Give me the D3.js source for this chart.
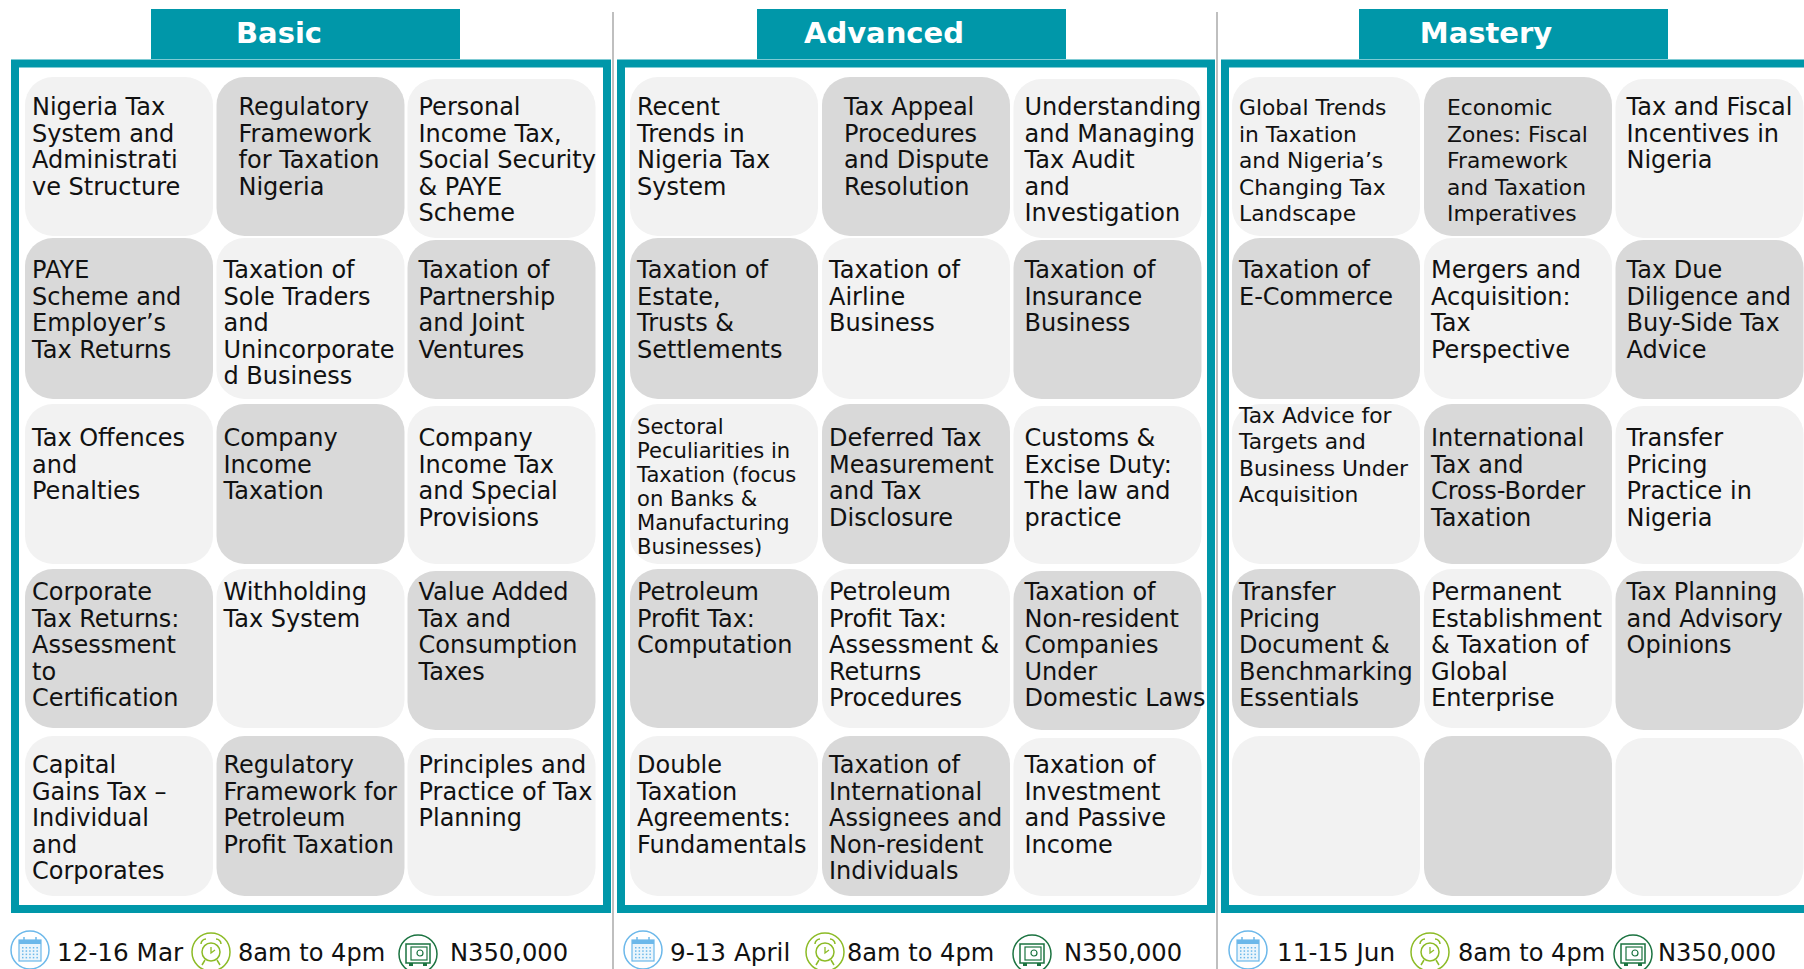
<!DOCTYPE html>
<html><head><meta charset="utf-8">
<script src="https://cdn.jsdelivr.net/npm/d3@7/dist/d3.min.js"></script>
<style>html,body{margin:0;padding:0;background:#fff;overflow:hidden}svg{display:block}text{font-family:"DejaVu Sans",Verdana,sans-serif}</style>
</head><body><svg id="c" width="1804" height="969"></svg>
<script>
const levels = ["Basic","Advanced","Mastery"];
const basicCourses = [
 "Nigeria Tax\nSystem and\nAdministrati\nve Structure","Regulatory\nFramework\nfor Taxation\nNigeria","Personal\nIncome Tax,\nSocial Security\n& PAYE\nScheme",
 "PAYE\nScheme and\nEmployer’s\nTax Returns","Taxation of\nSole Traders\nand\nUnincorporate\nd Business","Taxation of\nPartnership\nand Joint\nVentures",
 "Tax Offences\nand\nPenalties","Company\nIncome\nTaxation","Company\nIncome Tax\nand Special\nProvisions",
 "Corporate\nTax Returns:\nAssessment\nto\nCertification","Withholding\nTax System","Value Added\nTax and\nConsumption\nTaxes",
 "Capital\nGains Tax –\nIndividual\nand\nCorporates","Regulatory\nFramework for\nPetroleum\nProfit Taxation","Principles and\nPractice of Tax\nPlanning"];
const advancedCourses = [
 "Recent\nTrends in\nNigeria Tax\nSystem","Tax Appeal\nProcedures\nand Dispute\nResolution","Understanding\nand Managing\nTax Audit\nand\nInvestigation",
 "Taxation of\nEstate,\nTrusts &\nSettlements","Taxation of\nAirline\nBusiness","Taxation of\nInsurance\nBusiness",
 "Sectoral\nPeculiarities in\nTaxation (focus\non Banks &\nManufacturing\nBusinesses)","Deferred Tax\nMeasurement\nand Tax\nDisclosure","Customs &\nExcise Duty:\nThe law and\npractice",
 "Petroleum\nProfit Tax:\nComputation","Petroleum\nProfit Tax:\nAssessment &\nReturns\nProcedures","Taxation of\nNon-resident\nCompanies\nUnder\nDomestic Laws",
 "Double\nTaxation\nAgreements:\nFundamentals","Taxation of\nInternational\nAssignees and\nNon-resident\nIndividuals","Taxation of\nInvestment\nand Passive\nIncome"];
const masteryCourses = [
 "Global Trends\nin Taxation\nand Nigeria’s\nChanging Tax\nLandscape","Economic\nZones: Fiscal\nFramework\nand Taxation\nImperatives","Tax and Fiscal\nIncentives in\nNigeria",
 "Taxation of\nE-Commerce","Mergers and\nAcquisition:\nTax\nPerspective","Tax Due\nDiligence and\nBuy-Side Tax\nAdvice",
 "Tax Advice for\nTargets and\nBusiness Under\nAcquisition","International\nTax and\nCross-Border\nTaxation","Transfer\nPricing\nPractice in\nNigeria",
 "Transfer\nPricing\nDocument &\nBenchmarking\nEssentials","Permanent\nEstablishment\n& Taxation of\nGlobal\nEnterprise","Tax Planning\nand Advisory\nOpinions",
 "","",""];
const dates = ["12-16 Mar","9-13 April","11-15 Jun"];
const hours = ["8am to 4pm","8am to 4pm","8am to 4pm"];
const fees = ["N350,000","N350,000","N350,000"];
const courses = [basicCourses, advancedCourses, masteryCourses];

const svg = d3.select("#c");
const TEAL="#0097A9", LIGHT="#F2F2F2", DARK="#D9D9D9";
// layout
const panels = [
 {x0:11,x1:611,hx0:151,hx1:460,hcx:279,cols:[25,216.5,407.5],cw:188},
 {x0:617,x1:1215,hx0:757,hx1:1066,hcx:884,cols:[630,822,1013.5],cw:188},
 {x0:1221,x1:1830,hx0:1359,hx1:1668,hcx:1486,cols:[1232,1424,1615.5],cw:188}];
const rowTop = d3.scaleOrdinal().domain(d3.range(5)).range([77,238,404,569,736]);
const rowH   = d3.scaleOrdinal().domain(d3.range(5)).range([159,161,160,159,160]);
const col3H  = d3.scaleOrdinal().domain(d3.range(5)).range([159,159,158,159,158]);
const rowBase= d3.scaleOrdinal().domain(d3.range(5)).range([115,278,446,600,773]);
const lh=26.6, fs=24;
// overrides: "panel-row-col"
const over = {
 "0-0-1":{dx:15},"1-0-1":{dx:15},"2-0-1":{dx:16,fs:21.8},"2-0-0":{fs:21.8},
 "1-2-0":{fs:21.1,lh:24,base:433.5},"2-2-0":{fs:21.8,base:422.5}
};
const textInset=7;

panels.forEach((p,pi)=>{
 const g=svg.append("g");
 g.append("rect").attr("x",p.x0+4).attr("y",63.5).attr("width",p.x1-p.x0-8).attr("height",845.5)
  .attr("fill","#fff").attr("stroke",TEAL).attr("stroke-width",8);
 g.append("rect").attr("x",p.hx0).attr("y",9).attr("width",p.hx1-p.hx0).attr("height",50).attr("fill",TEAL);
 g.append("text").attr("x",p.hcx).attr("y",43).attr("text-anchor","middle").attr("fill","#fff")
  .attr("font-weight","bold").attr("font-size",29).text(levels[pi]);
 courses[pi].forEach((t,i)=>{
  const r=Math.floor(i/3),c=i%3,k=`${pi}-${r}-${c}`,o=over[k]||{};
  const off=c===2?2:0;
  g.append("rect").attr("x",p.cols[c]).attr("y",rowTop(r)+off).attr("width",p.cw)
   .attr("height",c===2?col3H(r):rowH(r)).attr("rx",28)
   .attr("fill",(r+c)%2?DARK:LIGHT);
  const tx=g.append("text").attr("font-size",o.fs||fs).attr("fill","#111");
  t.split("\n").forEach((ln,j)=>{
   if(!ln) return;
   tx.append("tspan").attr("x",p.cols[c]+textInset+(c===2?4:0)+(o.dx||0))
     .attr("y",(o.base||rowBase(r))+j*(o.lh||lh)).text(ln);
  });
 });
});

// dividers
[613,1217].forEach(x=>svg.append("line").attr("x1",x).attr("x2",x).attr("y1",12).attr("y2",969)
  .attr("stroke","#BFBFBF").attr("stroke-width",2));

// footer
const footer=[
 {cal:30,d:57,clk:211,h:238,safe:418,f:450},
 {cal:643,d:670,clk:825,h:847,safe:1032,f:1064},
 {cal:1248,d:1277,clk:1430,h:1458,safe:1633,f:1658}];
function calendar(x,y){
 const g=svg.append("g").attr("transform",`translate(${x},${y})`),col="#6CB8EA";
 g.append("circle").attr("r",19).attr("fill","#fff").attr("stroke",col).attr("stroke-width",1.5);
 g.append("rect").attr("x",-11).attr("y",-10).attr("width",22).attr("height",21).attr("fill","#EAF5FC").attr("stroke",col).attr("stroke-width",1.2);
 g.append("rect").attr("x",-11).attr("y",-10).attr("width",22).attr("height",4).attr("fill",col);
 [-6,6].forEach(d=>g.append("line").attr("x1",d).attr("x2",d).attr("y1",-13).attr("y2",-8).attr("stroke",col).attr("stroke-width",1.5));
 d3.range(4).forEach(a=>d3.range(5).forEach(b=>g.append("rect").attr("x",-8+b*3.6).attr("y",-3+a*3.3).attr("width",1.5).attr("height",1.5).attr("fill",col)));
}
function clock(x,y){
 const g=svg.append("g").attr("transform",`translate(${x},${y})`),col="#8CBB26";
 g.append("circle").attr("r",19).attr("fill","#fff").attr("stroke",col).attr("stroke-width",1.5);
 g.append("circle").attr("r",9).attr("fill","none").attr("stroke",col).attr("stroke-width",1.5);
 g.append("path").attr("d","M0,-5V1L4,-2").attr("fill","none").attr("stroke",col).attr("stroke-width",1.3);
 g.append("path").attr("d","M-10,-8A5,5 0 0 1 -5,-13M10,-8A5,5 0 0 0 5,-13M-6,8L-9,13M6,8L9,13").attr("fill","none").attr("stroke",col).attr("stroke-width",1.5);
}
function safe(x,y){
 const g=svg.append("g").attr("transform",`translate(${x},${y})`),col="#1B7340";
 g.append("circle").attr("r",19).attr("fill","#fff").attr("stroke",col).attr("stroke-width",1.5);
 g.append("rect").attr("x",-12).attr("y",-10).attr("width",24).attr("height",19).attr("fill","none").attr("stroke",col).attr("stroke-width",1.5);
 g.append("rect").attr("x",-7).attr("y",-7).attr("width",16).attr("height",13).attr("fill","none").attr("stroke",col).attr("stroke-width",1.2);
 g.append("circle").attr("cx",2).attr("cy",-1).attr("r",3).attr("fill","none").attr("stroke",col).attr("stroke-width",1.2);
 g.append("path").attr("d","M-9,9V12H-5V9M5,9V12H9V9").attr("fill",col);
}
footer.forEach((f,i)=>{
 calendar(f.cal,950);clock(f.clk,952);safe(f.safe,954);
 [[f.d,dates[i],24.7],[f.h,hours[i],24.1],[f.f,fees[i],24.2]].forEach(([x,t,s])=>
  svg.append("text").attr("x",x).attr("y",961).attr("font-size",s).attr("fill","#111").text(t));
});
</script></body></html>
